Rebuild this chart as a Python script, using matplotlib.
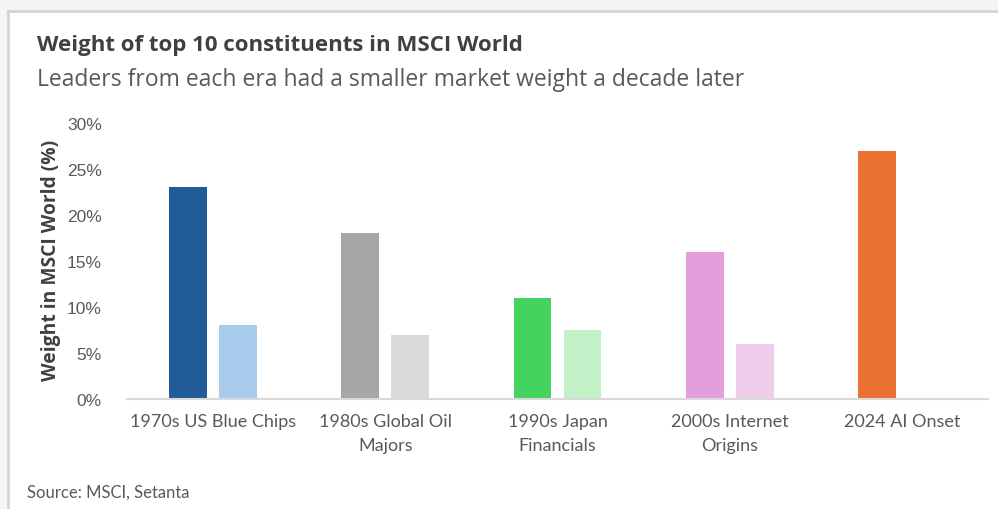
import matplotlib.pyplot as plt
from matplotlib.patches import Rectangle
from matplotlib.ticker import FuncFormatter
import numpy as np

categories = ["1970s US Blue Chips", "1980s Global Oil\nMajors", "1990s Japan\nFinancials",
              "2000s Internet\nOrigins", "2024 AI Onset"]
peak = [23, 18, 11, 16, 27]
decade_later = [8, 7, 7.5, 6, None]
peak_colors = ["#1F5C99", "#A6A6A6", "#44D35E", "#E39FDB", "#E97132"]
later_colors = ["#A9CCEC", "#D9D9D9", "#C3F2C9", "#F1CDEC", "#FFFFFF"]

grey = "#595959"
fig = plt.figure(figsize=(9.98, 5.10), dpi=100)

# frame strips like the screenshot
fig.patches.append(Rectangle((0, 1 - 11/510), 1, 11/510, transform=fig.transFigure,
                             facecolor="#F5F5F5", edgecolor="none", zorder=0))
fig.patches.append(Rectangle((0, 0), 8/998, 1, transform=fig.transFigure,
                             facecolor="#F5F5F5", edgecolor="none", zorder=0))
fig.lines.append(plt.Line2D([8/998, 1], [1 - 12/510] * 2, transform=fig.transFigure,
                            color="#D4D4D4", lw=2))
fig.lines.append(plt.Line2D([8/998] * 2, [0, 1 - 12/510], transform=fig.transFigure,
                            color="#D4D4D4", lw=2))

ax = fig.add_axes([127/998, 110/510, 861/998, 276/510])
x = np.arange(len(categories))
w = 0.22
off = 0.145
ax.bar(x - off, peak, width=w, color=peak_colors, zorder=2)
for xi, v, c in zip(x, decade_later, later_colors):
    if v is not None:
        ax.bar(xi + off, v, width=w, color=c, zorder=2)

ax.set_xlim(-0.5, len(categories) - 0.5)
ax.set_ylim(0, 30)
ax.set_yticks(range(0, 31, 5))
ax.yaxis.set_major_formatter(FuncFormatter(lambda v, p: f"{int(v)}%"))
ax.set_xticks(x)
ax.set_xticklabels(categories, fontsize=13, color=grey, family="Lato", linespacing=1.65)
for t in ax.get_yticklabels():
    t.set_fontsize(12.5)
    t.set_color(grey)
    t.set_family("Liberation Sans")
ax.tick_params(axis="both", length=0)
ax.tick_params(axis="x", pad=10)
ax.tick_params(axis="y", pad=18)
for s in ["top", "right", "left"]:
    ax.spines[s].set_visible(False)
ax.spines["bottom"].set_color("#D9D9D9")
ax.spines["bottom"].set_linewidth(1.5)

fig.text(51/998, 1 - 260/510, "Weight in MSCI World (%)", rotation=90, ha="center", va="center",
         fontsize=13.9, fontweight="bold", color="#404040", family="Open Sans")

fig.text(37/998, 1 - 46/510, "Weight of top 10 constituents in MSCI World", ha="left", va="center",
         fontsize=16, fontweight="bold", color="#404040", family="Open Sans")
fig.text(37/998, 1 - 80/510, "Leaders from each era had a smaller market weight a decade later",
         ha="left", va="center", fontsize=16.5, color=grey, family="Open Sans")
fig.text(27/998, 1 - 493/510, "Source: MSCI, Setanta", ha="left", va="center",
         fontsize=12, color=grey, family="Lato")

fig.savefig("out.png", dpi=100)
